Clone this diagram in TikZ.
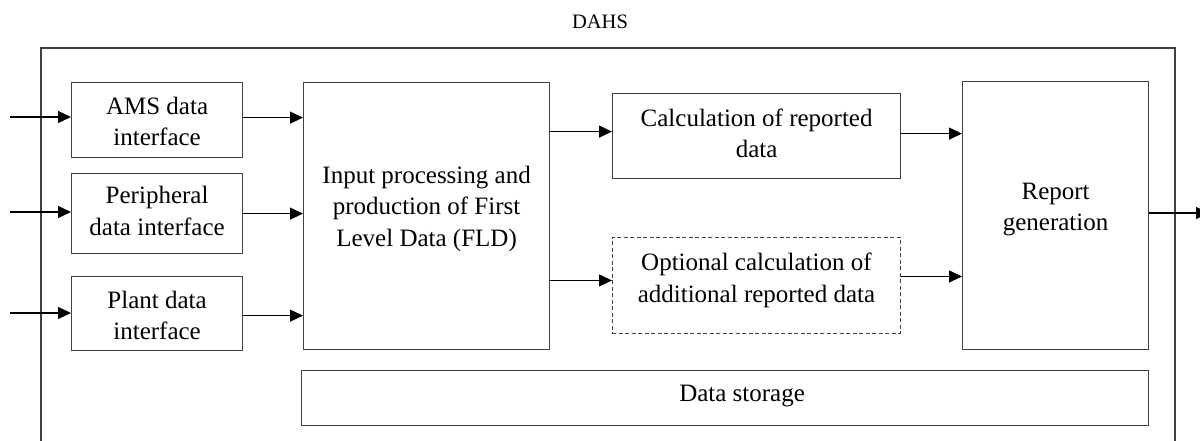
\documentclass[tikz,border=0pt]{standalone}
\usepackage{fontspec}
\setmainfont{Liberation Serif}
\usetikzlibrary{arrows.meta}
\begin{document}
\begin{tikzpicture}[x=1pt,y=-1pt,
  box/.style={draw=black!75, line width=1.2pt, inner sep=0pt, anchor=north west},
  dashbox/.style={box, line width=0.9pt, dash pattern=on 4pt off 2.5pt},
  txt/.style={align=center, font=\fontsize{25}{31.5}\selectfont, inner sep=0pt},
  arr/.style={line width=1.2pt, -{Triangle[length=13pt,width=12pt]}},
  frame/.style={draw=black!75, line width=1.2pt}
]
\clip (0,0) rectangle (1200,441);
\path[fill=white] (0,0) rectangle (1200,441);

% title and outer frame
\node[font=\fontsize{20.5}{24}\selectfont, inner sep=0pt, anchor=base] (title) at (600,29) {DAHS};
\draw[frame] (41,441) -- (41,48) -- (1175,48) -- (1175,441);

% boxes
\node[box, minimum width=171pt, minimum height=75pt] (ams) at (71,82) {};
\node[box, minimum width=171pt, minimum height=80pt] (per) at (71,173) {};
\node[box, minimum width=171pt, minimum height=74pt] (plant) at (71,276) {};
\node[box, minimum width=246pt, minimum height=267pt] (fld) at (303,82) {};
\node[box, minimum width=288pt, minimum height=85pt] (calc) at (612,93) {};
\node[dashbox, minimum width=288pt, minimum height=96pt] (opt) at (612,237) {};
\node[box, minimum width=186pt, minimum height=268pt] (rep) at (962,81) {};
\node[box, minimum width=847pt, minimum height=55pt] (store) at (301,370) {};

% texts
\node[txt] (ams-t) at ([yshift=-1.5pt]ams.center) {AMS data\\interface};
\node[txt] (per-t) at ([yshift=2.5pt]per.center) {Peripheral\\data interface};
\node[txt] (plant-t) at ([yshift=-2pt]plant.center) {Plant data\\interface};
\node[txt] (fld-t) at ([yshift=7.4pt]fld.center) {Input processing and\\production of First\\Level Data (FLD)};
\node[txt] (calc-t) at ([yshift=3pt]calc.center) {Calculation of reported\\data};
\node[txt] (opt-t) at ([yshift=5pt]opt.center) {Optional calculation of\\additional reported data};
\node[txt] (rep-t) at ([yshift=6pt]rep.center) {Report\\generation};
\node[txt] (store-t) at ([xshift=17pt,yshift=1.6pt]store.center) {Data storage};

% free ends
\coordinate (in1) at (10,117);
\coordinate (in2) at (10,212);
\coordinate (in3) at (10,313);
\coordinate (out) at (1209,213);

% connectors
\draw[arr] (in1) -- (in1 -| ams.west);
\draw[arr] (in2) -- (in2 -| per.west);
\draw[arr] (in3) -- (in3 -| plant.west);
\draw[arr] ([yshift=2.5pt]ams.east) -- ([yshift=2.5pt]ams.east -| fld.west);
\draw[arr] (per.east) -- (per.east -| fld.west);
\draw[arr] ([yshift=-2pt]plant.east) -- ([yshift=-2pt]plant.east -| fld.west);
\draw[arr] ([yshift=4.5pt]calc.west -| fld.east) -- ([yshift=4.5pt]calc.west);
\draw[arr] ([yshift=5pt]opt.west -| fld.east) -- ([yshift=5pt]opt.west);
\draw[arr] ([yshift=2.5pt]calc.east) -- ([yshift=2.5pt]calc.east -| rep.west);
\draw[arr] ([yshift=9pt]opt.east) -- ([yshift=9pt]opt.east -| rep.west);
\draw[arr] (out -| rep.east) -- (out);
\end{tikzpicture}
\end{document}
